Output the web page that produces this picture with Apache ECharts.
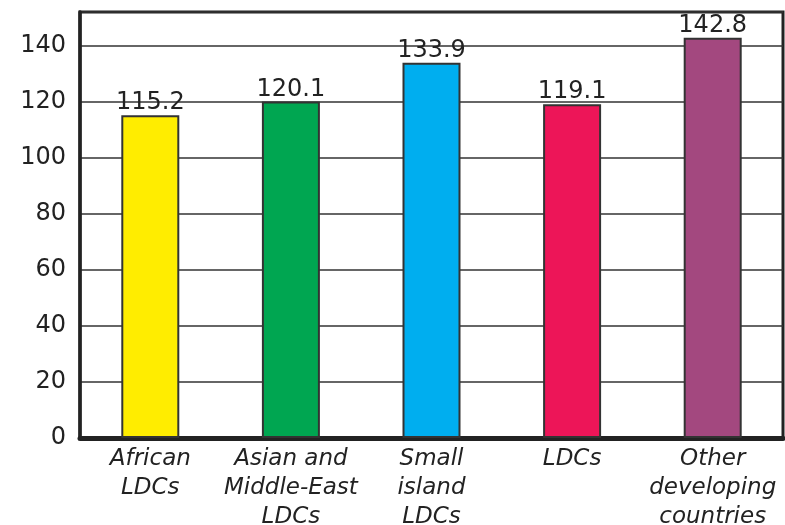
<!DOCTYPE html>
<html>
<head>
<meta charset="utf-8">
<script src="https://cdn.jsdelivr.net/npm/echarts@6/dist/echarts.min.js"></script>
<style>
  html, body { margin: 0; padding: 0; background: #fff; }
  #chart { width: 785px; height: 525px; }
</style>
</head>
<body>
<div id="chart"></div>
<script>
// Groups along the x axis
const categories = [
  'African\nLDCs',
  'Asian and\nMiddle-East\nLDCs',
  'Small\nisland\nLDCs',
  'LDCs',
  'Other\ndeveloping\ncountries'
];
// Bar values
const values = [115.2, 120.1, 133.9, 119.1, 142.8];
// One fill per bar
const barColors = ['#FFED00', '#00A651', '#00AEEF', '#ED1558', '#A3487F'];
// Value-axis ticks
const yTicks = [0, 20, 40, 60, 80, 100, 120, 140];

const textColor = '#222';
const font = 'DejaVu Sans';

const chart = echarts.init(document.getElementById('chart'), null, { renderer: 'canvas' });

chart.setOption({
  animation: false,
  backgroundColor: '#fff',
  grid: {
    left: 80, right: 2, top: 12, bottom: 87,
    containLabel: false,
    outerBoundsMode: 'none',
    show: true,
    borderColor: '#222',
    borderWidth: 3,
    backgroundColor: 'transparent'
  },
  xAxis: {
    type: 'category',
    data: categories,
    axisLine: { show: true, lineStyle: { color: '#222', width: 5 } },
    axisTick: { show: false },
    axisLabel: {
      interval: 0,
      margin: 7,
      color: textColor,
      fontFamily: font,
      fontStyle: 'italic',
      fontSize: 23,
      lineHeight: 29,
      verticalAlign: 'top'
    }
  },
  yAxis: {
    type: 'value',
    min: 0,
    max: 152,
    interval: 20,
    axisLine: { show: true, lineStyle: { color: '#222', width: 3.5 } },
    axisTick: { show: false },
    splitLine: { show: true, lineStyle: { color: '#333', width: 1.5 } },
    axisLabel: {
      showMaxLabel: false,
      margin: 14,
      color: textColor,
      fontFamily: font,
      fontSize: 24,
      padding: [0, 0, 16, 0],
      formatter: function (v) { return yTicks.indexOf(v) >= 0 ? String(v) : ''; }
    }
  },
  series: [{
    type: 'bar',
    barWidth: 58,
    data: values.map(function (v, i) {
      return { value: v, itemStyle: { color: barColors[i] } };
    }),
    itemStyle: { borderColor: '#333', borderWidth: 2 },
    label: {
      show: true,
      position: 'top',
      distance: 0,
      color: textColor,
      fontFamily: font,
      fontSize: 24,
      formatter: function (p) { return p.value.toFixed(1); }
    }
  }]
});
</script>
</body>
</html>
